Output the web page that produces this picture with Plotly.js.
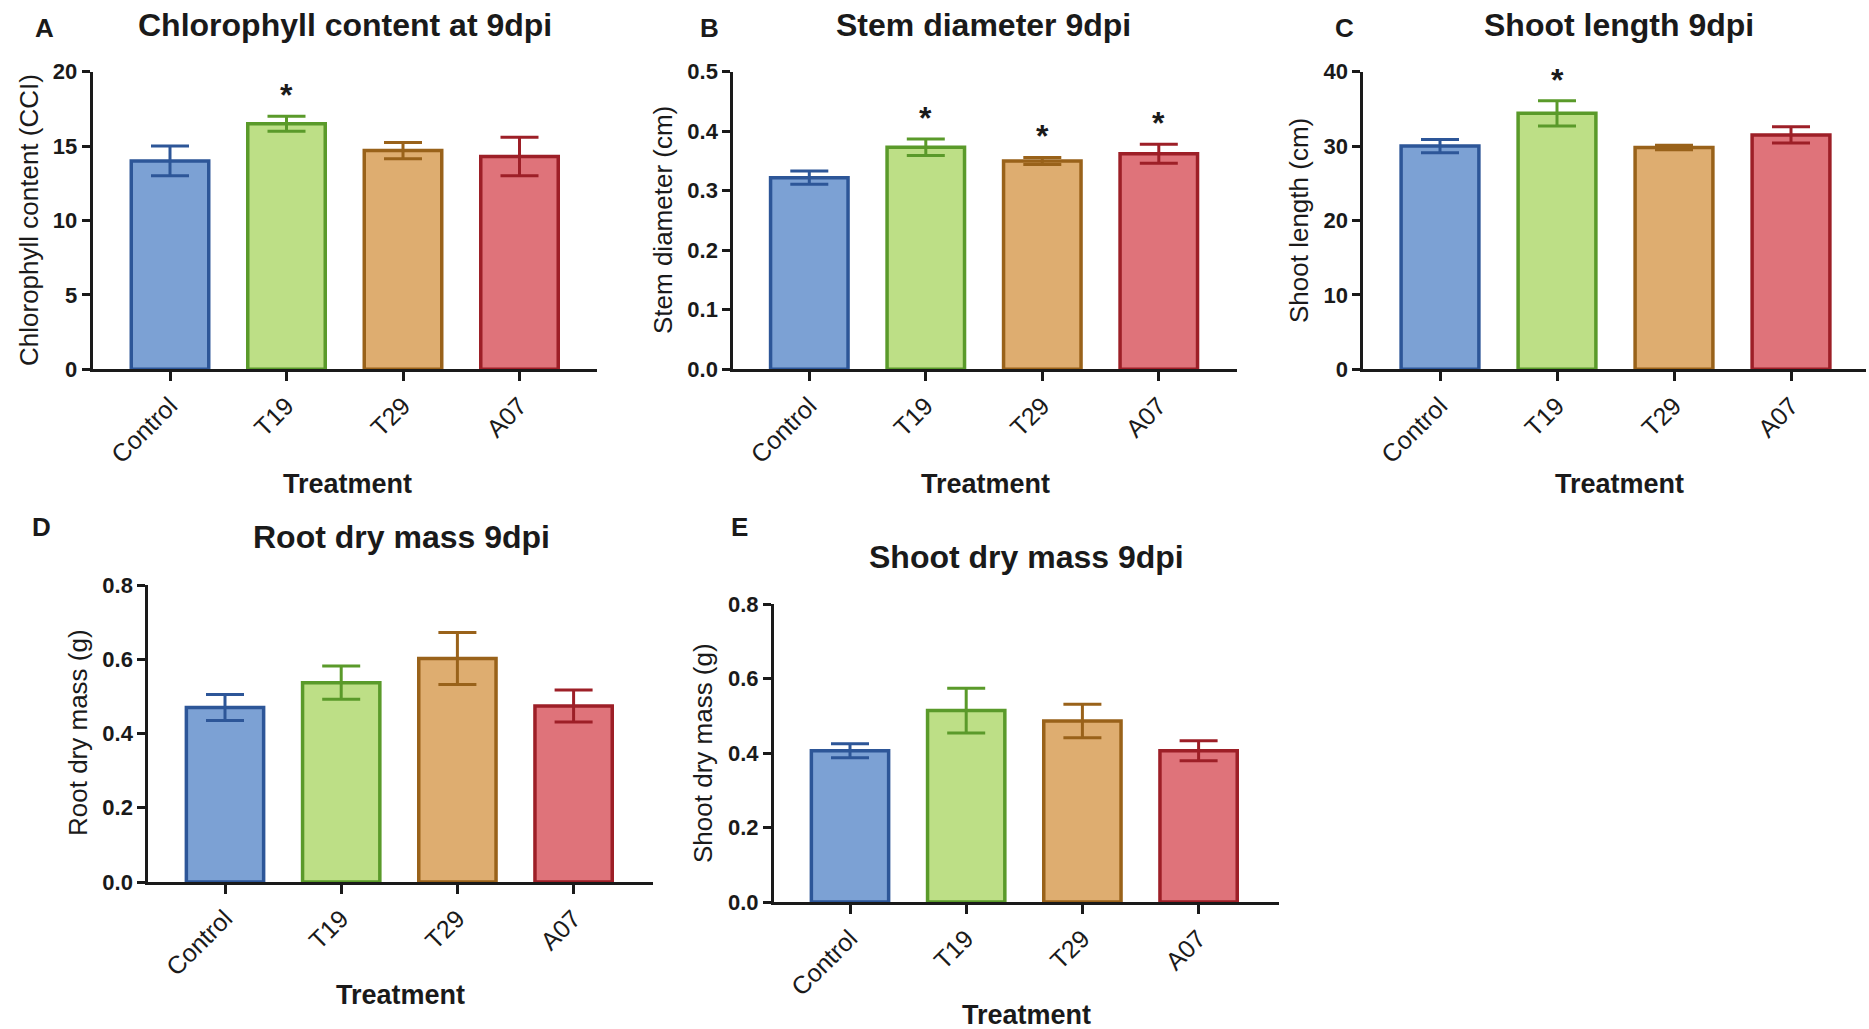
<!DOCTYPE html>
<html>
<head>
<meta charset="utf-8">
<script src="https://cdn.plot.ly/plotly-3.0.1.min.js"></script>
<style>
  html, body { margin: 0; padding: 0; background: #ffffff; }
  #chart { width: 1869px; height: 1029px; }
</style>
</head>
<body>
<div id="chart"></div>
<script>
// ---------------- DATA ----------------
const categories = ['Control', 'T19', 'T29', 'A07'];

const chlorophyllMean = [14.0, 16.5, 14.7, 14.3];
const chlorophyllErr  = [1.0, 0.5, 0.55, 1.3];
const chlorophyllSig  = [false, true, false, false];

const stemMean = [0.322, 0.373, 0.350, 0.362];
const stemErr  = [0.011, 0.014, 0.006, 0.016];
const stemSig  = [false, true, true, true];

const shootLengthMean = [30.0, 34.4, 29.8, 31.5];
const shootLengthErr  = [0.9, 1.7, 0.3, 1.1];
const shootLengthSig  = [false, true, false, false];

const rootDryMean = [0.470, 0.537, 0.602, 0.474];
const rootDryErr  = [0.035, 0.045, 0.070, 0.043];
const rootDrySig  = [false, false, false, false];

const shootDryMean = [0.406, 0.514, 0.486, 0.406];
const shootDryErr  = [0.019, 0.060, 0.045, 0.027];
const shootDrySig  = [false, false, false, false];

const panelLetters = ['A', 'B', 'C', 'D', 'E'];
const panelTitles = ['Chlorophyll content at 9dpi', 'Stem diameter 9dpi', 'Shoot length 9dpi',
                     'Root dry mass 9dpi', 'Shoot dry mass 9dpi'];
const yTitles = ['Chlorophyll content (CCI)', 'Stem diameter (cm)', 'Shoot length (cm)',
                 'Root dry mass (g)', 'Shoot dry mass (g)'];
const xTitle = 'Treatment';

// ---------------- STYLE ----------------
const fillColors = ['#7ca1d4', '#bddf86', '#dead70', '#df737a'];
const lineColors = ['#2d5698', '#5a9a2a', '#99621a', '#9d1f27'];
const FONT = 'Liberation Sans, Arial, Helvetica, sans-serif';
const INK = '#1a1a1a';

const W = 1869, H = 1029;
const px = v => v / W;
const py = v => 1 - v / H;

// geometry (pixels): axis start, first category centre, category spacing, axis end; y bottom, y top
const panels = [
  { mean: chlorophyllMean, err: chlorophyllErr, sig: chlorophyllSig,
    gx: [92.7, 170, 116.5, 597], gy: [369.3, 71.7], yr: [0, 20], dtick: 5, fmt: '',
    title: [345, 25], letter: [44, 28], ytitle: [29, 220], xtitle: [347, 484] },
  { mean: stemMean, err: stemErr, sig: stemSig,
    gx: [733.3, 809.3, 116.5, 1237], gy: [369.3, 71.7], yr: [0, 0.5], dtick: 0.1, fmt: '.1f',
    title: [984, 25], letter: [709, 28], ytitle: [663, 220], xtitle: [985, 484] },
  { mean: shootLengthMean, err: shootLengthErr, sig: shootLengthSig,
    gx: [1363.3, 1440, 117, 1866], gy: [369.3, 71.7], yr: [0, 40], dtick: 10, fmt: '',
    title: [1619, 25], letter: [1344, 28], ytitle: [1299, 221], xtitle: [1619, 484] },
  { mean: rootDryMean, err: rootDryErr, sig: rootDrySig,
    gx: [148.3, 225, 116.2, 652.6], gy: [882, 585], yr: [0, 0.8], dtick: 0.2, fmt: '.1f',
    title: [401.5, 537], letter: [41, 527], ytitle: [78, 733], xtitle: [400, 995] },
  { mean: shootDryMean, err: shootDryErr, sig: shootDrySig,
    gx: [774, 850, 116.2, 1279], gy: [902, 604], yr: [0, 0.8], dtick: 0.2, fmt: '.1f',
    title: [1026.7, 557], letter: [739, 527], ytitle: [703, 753], xtitle: [1026, 1015] }
];

const traces = [];
const annotations = [];
const layout = {
  width: W, height: H,
  margin: { l: 0, r: 0, t: 0, b: 0 },
  paper_bgcolor: '#ffffff', plot_bgcolor: 'rgba(0,0,0,0)',
  showlegend: false,
  barmode: 'overlay',
  font: { family: FONT, color: INK },
  annotations: annotations
};

panels.forEach((p, i) => {
  const n = i + 1;
  const xa = n === 1 ? 'x' : 'x' + n;
  const ya = n === 1 ? 'y' : 'y' + n;
  const xk = n === 1 ? 'xaxis' : 'xaxis' + n;
  const yk = n === 1 ? 'yaxis' : 'yaxis' + n;
  const [x0, c0, sp, x1] = p.gx;
  const xr = [-(c0 - x0) / sp, (x1 - c0) / sp];

  categories.forEach((c, j) => {
    traces.push({
      type: 'bar',
      x: [c], y: [p.mean[j]],
      xaxis: xa, yaxis: ya,
      width: 0.665,
      marker: { color: fillColors[j], line: { color: lineColors[j], width: 3.5 } },
      error_y: { type: 'data', array: [p.err[j]], visible: true,
                 color: lineColors[j], thickness: 3, width: 19 },
      hoverinfo: 'skip'
    });
    if (p.sig[j]) {
      annotations.push({
        xref: xa, yref: ya, x: c, y: p.mean[j] + p.err[j],
        text: '<b>*</b>', showarrow: false, yanchor: 'bottom', yshift: 1,
        font: { family: FONT, size: 32, color: INK }
      });
    }
  });

  layout[xk] = {
    domain: [px(x0), px(x1)],
    anchor: ya,
    type: 'category',
    categoryorder: 'array', categoryarray: categories,
    range: xr,
    showline: true, linewidth: 3, linecolor: INK,
    ticks: 'outside', ticklen: 9, tickwidth: 3, tickcolor: INK,
    tickangle: -45,
    tickfont: { family: FONT, size: 25, color: INK },
    showgrid: false, zeroline: false, fixedrange: true
  };
  layout[yk] = {
    domain: [py(p.gy[0]), py(p.gy[1])],
    anchor: xa,
    range: p.yr, dtick: p.dtick, tick0: 0, tickformat: p.fmt,
    showline: true, linewidth: 3, linecolor: INK,
    ticks: 'outside', ticklen: 8, tickwidth: 3, tickcolor: INK,
    tickfont: { family: FONT, size: 22, color: INK, weight: 'bold' },
    showgrid: false, zeroline: false, fixedrange: true
  };

  annotations.push({
    xref: 'paper', yref: 'paper', x: px(p.title[0]), y: py(p.title[1]),
    xanchor: 'center', yanchor: 'middle', showarrow: false,
    text: '<b>' + panelTitles[i] + '</b>',
    font: { family: FONT, size: 32, color: INK }
  });
  annotations.push({
    xref: 'paper', yref: 'paper', x: px(p.letter[0]), y: py(p.letter[1]),
    xanchor: 'center', yanchor: 'middle', showarrow: false,
    text: '<b>' + panelLetters[i] + '</b>',
    font: { family: FONT, size: 26, color: INK }
  });
  annotations.push({
    xref: 'paper', yref: 'paper', x: px(p.ytitle[0]), y: py(p.ytitle[1]),
    xanchor: 'center', yanchor: 'middle', showarrow: false, textangle: -90,
    text: yTitles[i],
    font: { family: FONT, size: 26, color: INK }
  });
  annotations.push({
    xref: 'paper', yref: 'paper', x: px(p.xtitle[0]), y: py(p.xtitle[1]),
    xanchor: 'center', yanchor: 'middle', showarrow: false,
    text: '<b>' + xTitle + '</b>',
    font: { family: FONT, size: 27, color: INK }
  });
});

Plotly.newPlot('chart', traces, layout, { staticPlot: true, displayModeBar: false });
</script>
</body>
</html>
